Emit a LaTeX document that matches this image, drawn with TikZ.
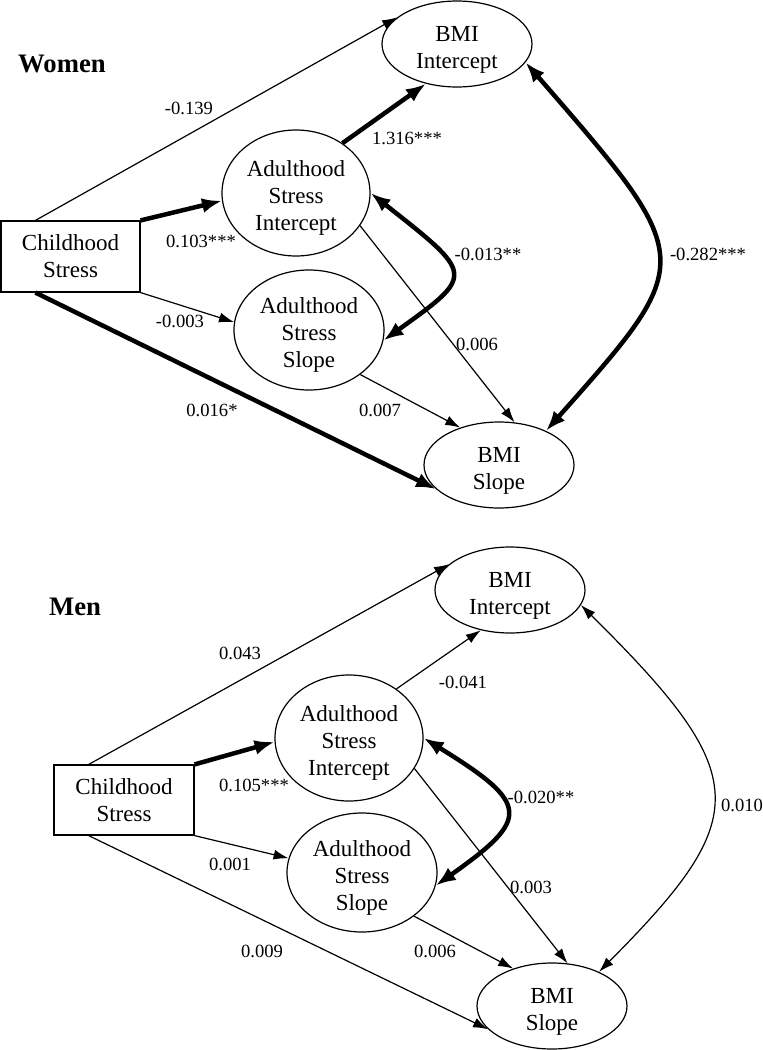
\documentclass[tikz,border=0pt]{standalone}
\usepackage{fontspec}
\setmainfont{Liberation Serif}
\usetikzlibrary{arrows.meta,calc,shapes.geometric}
\newcommand\lowtext[1]{\raisebox{-5.5pt}[\height][\depth]{\begin{tabular}{@{}c@{}}#1\end{tabular}}}
\begin{document}
\begin{tikzpicture}[x=1pt,y=-1pt,
  txt/.style={font=\fontsize{23}{27}\selectfont, align=center},
  lat/.style={ellipse, draw, line width=1.2pt, inner sep=0pt, txt},
  asnode/.style={lat, minimum width=148pt, minimum height=126pt},
  bminode/.style={lat, minimum width=150pt, minimum height=86pt},
  obs/.style={rectangle, draw, line width=1.2pt, inner sep=0pt, txt},
  lbl/.style={font=\fontsize{18.6}{22}\selectfont, inner sep=0pt},
  ttl/.style={font=\fontsize{26.7}{30}\selectfont\bfseries, inner sep=0pt},
  thinarr/.style={line width=1.2pt, -{Latex[length=15pt,width=10pt]}},
  thickarr/.style={line width=4.5pt, -{Latex[length=20pt,width=15pt]}},
  thickcov/.style={line width=4.5pt, {Latex[length=20pt,width=15pt]}-{Latex[length=20pt,width=15pt]}},
  thincov/.style={line width=1.2pt, {Latex[length=15pt,width=10pt]}-{Latex[length=15pt,width=10pt]}},
]
\useasboundingbox (0,0) rectangle (763,1050);

% ---------------- Women ----------------
\node[ttl] (tw) at (62,64) {Women};
\node[obs, minimum width=139pt, minimum height=71pt] (cw) at (70.5,256.5) {Childhood\\Stress};
\node[asnode] (aiw) at (296,193) {\lowtext{Adulthood\\Stress\\Intercept}};
\node[asnode, minimum width=150pt, minimum height=120pt] (asw) at (309,330) {\lowtext{Adulthood\\Stress\\Slope}};
\node[bminode] (biw) at (457,44) {\lowtext{BMI\\Intercept}};
\node[bminode] (bsw) at (499,465) {\lowtext{BMI\\Slope}};

\draw[thinarr] ($(cw.north west)!0.25!(cw.north east)$) -- (biw.156);
\draw[thickarr] (cw.north east) -- (aiw.186);
\draw[thickarr] (aiw.47) -- (biw.-128);
\draw[thinarr] (cw.south east) -- (asw.174);
\draw[thickarr] ($(cw.south west)!0.25!(cw.south east)$) -- (bsw.201);
\draw[thinarr] (asw.-41) -- (bsw.136);
\draw[thinarr] (aiw.-27) -- (bsw.70);
\draw[thickcov] (aiw.0) .. controls +(104,82) and +(92,-66) .. (asw.-8);
\draw[thickcov] (biw.-15) .. controls +(172,198) and +(152,-171) .. (bsw.36);

\node[lbl] (lw1) at (189,108) {-0.139};
\node[lbl] (lw2) at (201,241) {0.103***};
\node[lbl] (lw3) at (407,138) {1.316***};
\node[lbl] (lw4) at (180,321) {-0.003};
\node[lbl] (lw5) at (212,410) {0.016*};
\node[lbl] (lw6) at (380,410) {0.007};
\node[lbl] (lw7) at (477,344) {0.006};
\node[lbl] (lw8) at (488,254) {-0.013**};
\node[lbl] (lw9) at (708,254) {-0.282***};

% ---------------- Men ----------------
\node[ttl] (tm) at (75,607) {Men};
\node[obs, minimum width=140pt, minimum height=70pt] (cm) at (124,800) {Childhood\\Stress};
\node[asnode] (aim) at (349,738) {\lowtext{Adulthood\\Stress\\Intercept}};
\node[asnode, minimum width=150pt, minimum height=119pt] (asm) at (362,872.5) {\lowtext{Adulthood\\Stress\\Slope}};
\node[bminode] (bim) at (510,590) {\lowtext{BMI\\Intercept}};
\node[bminode] (bsm) at (552,1006) {\lowtext{BMI\\Slope}};

\draw[thinarr] ($(cm.north west)!0.25!(cm.north east)$) -- (bim.157);
\draw[thickarr] (cm.north east) -- (aim.183);
\draw[thinarr] (aim.46) -- (bim.-126);
\draw[thinarr] (cm.south east) -- (asm.169);
\draw[thinarr] ($(cm.south west)!0.25!(cm.south east)$) -- (bsm.200);
\draw[thinarr] (asm.-40) -- (bsm.136);
\draw[thinarr] (aim.-25) -- (bsm.70);
\draw[thickcov] (aim.0) .. controls +(107,66) and +(95,-67) .. (asm.-10);
\draw[thincov] (bim.-12) .. controls +(173,171) and +(154,-155) .. (bsm.36);

\node[lbl] (lm1) at (240,653) {0.043};
\node[lbl] (lm2) at (254,785) {0.105***};
\node[lbl] (lm3) at (463,682) {-0.041};
\node[lbl] (lm4) at (230,864) {0.001};
\node[lbl] (lm5) at (262,951) {0.009};
\node[lbl] (lm6) at (435,951) {0.006};
\node[lbl] (lm7) at (531,887) {0.003};
\node[lbl] (lm8) at (541,797) {-0.020**};
\node[lbl] (lm9) at (742,805) {0.010};
\end{tikzpicture}
\end{document}
